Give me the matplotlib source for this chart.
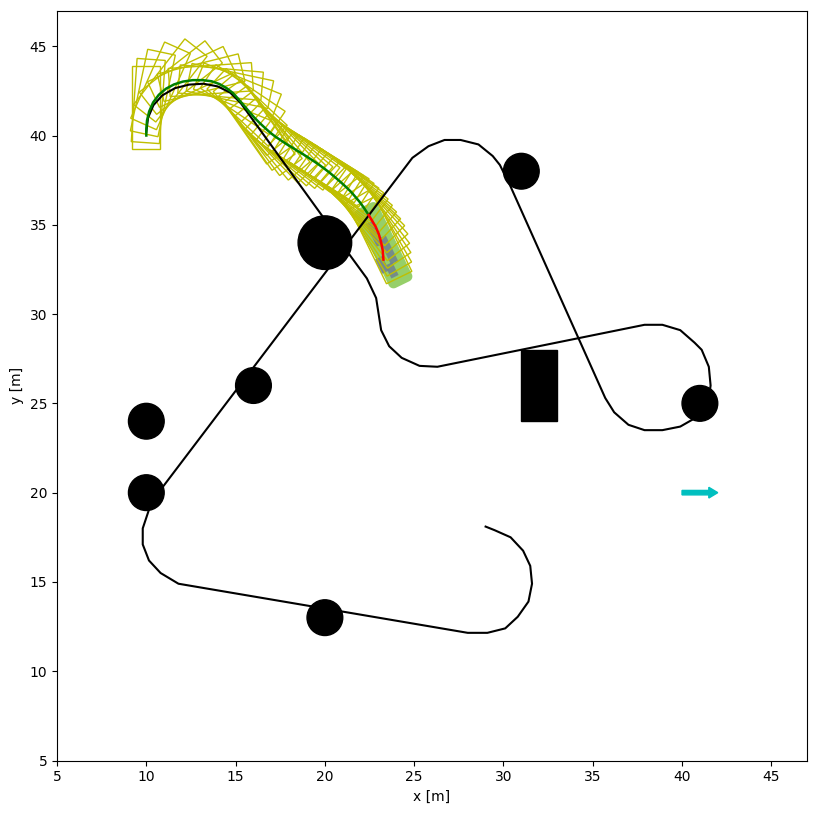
import matplotlib
matplotlib.use("Agg")
import matplotlib.pyplot as plt
import matplotlib.patches as patches
import numpy as np

# reference path (black)
ref_x = [10.0, 10.1, 10.4, 10.9, 11.6, 12.4, 13.2, 14.0, 14.7, 15.3, 19.85, 21.4, 22.35,
         22.87, 23.15, 23.6, 24.3, 25.3, 26.3, 37.9, 38.9, 39.9, 40.7, 41.1, 41.5, 41.6,
         41.4, 40.6, 39.9, 38.9, 37.9, 37.0, 36.2, 35.7, 30.4, 29.8, 29.4, 28.6, 27.6,
         26.7, 25.8, 24.9, 10.3, 9.8, 9.8, 10.15, 10.8, 11.8, 28.0, 29.1, 30.1, 30.8,
         31.4, 31.6, 31.5, 31.1, 30.4, 29.5, 29.0]
ref_y = [40.2, 41.0, 41.7, 42.25, 42.65, 42.85, 42.9, 42.75, 42.4, 41.8, 35.5, 33.3, 32.0,
         30.9, 29.1, 28.2, 27.55, 27.1, 27.05, 29.4, 29.4, 29.1, 28.4, 28.0, 27.05, 26.0,
         24.6, 24.1, 23.7, 23.5, 23.5, 23.8, 24.5, 25.3, 37.14, 38.35, 38.85, 39.5, 39.75,
         39.75, 39.4, 38.75, 19.5, 18.0, 17.1, 16.2, 15.5, 14.9, 12.15, 12.15, 12.4, 13.05,
         13.9, 14.9, 15.9, 16.75, 17.5, 17.9, 18.1]

# driven trajectory (green) and vehicle heading at each pose
traj_x = [10.00, 10.00, 10.04, 10.16, 10.38, 10.70, 11.10, 11.55, 12.05, 12.60, 13.15,
          13.65, 14.10, 14.50, 14.85, 15.15, 15.45, 15.75, 16.05, 16.35, 16.65, 16.95,
          17.25, 17.55, 17.85, 18.15, 18.45, 18.75, 19.05, 19.35, 19.65, 19.95, 20.25,
          20.55, 20.85, 21.15, 21.45, 21.72, 21.98, 22.22, 22.45]
traj_y = [40.00, 40.37, 40.85, 41.35, 41.85, 42.28, 42.62, 42.86, 43.02, 43.10, 43.10,
          43.04, 42.88, 42.65, 42.38, 42.05, 41.70, 41.35, 41.00, 40.70, 40.42, 40.15,
          39.92, 39.72, 39.52, 39.34, 39.15, 38.97, 38.78, 38.58, 38.38, 38.16, 37.93,
          37.68, 37.42, 37.15, 36.86, 36.55, 36.24, 35.90, 35.55]
traj_yaw = [90, 86, 78, 66, 52, 38, 25, 14, 4, -5, -12, -22, -34, -43, -50, -55, -55,
            -53, -50, -46, -43, -40, -37, -35, -33, -32, -32, -32, -33, -34, -35, -37,
            -39, -41, -43, -45, -48, -52, -56, -60, -64]

# predicted trajectory (red)
pred_x = [22.45, 22.65, 22.85, 23.02, 23.15, 23.24, 23.28]
pred_y = [35.55, 35.22, 34.88, 34.48, 34.02, 33.55, 33.05]

# safety region: x, y, heading [deg]; rear, front, half width, corner radius
safety_pose = [22.6, 35.25, -64]
safety_size = [0.6, 3.7, 0.42, 0.3]
# predicted footprints (grey)
grey_x = [22.8, 23.55, 23.2, 23.75]
grey_y = [34.5, 33.6, 32.75, 32.45]
grey_len = [1.4, 1.6, 0.9, 0.8]

# obstacles
obs_x = [20, 10, 16, 10, 20, 31, 41]
obs_y = [34, 20, 26, 24, 13, 38, 25]
obs_r = [1.5, 1, 1, 1, 1, 1, 1]
box_obs = [31, 24, 2, 4]  # x, y, width, height

goal = [40, 20]

car_rear = 0.77
car_front = 3.9
car_width = 1.58


def rot_mat(yaw):
    return np.array([[np.cos(yaw), -np.sin(yaw)], [np.sin(yaw), np.cos(yaw)]])


def car_outline(x, y, yaw, rear=car_rear, front=car_front, width=car_width):
    local = np.array([[-rear, -width / 2], [front, -width / 2],
                      [front, width / 2], [-rear, width / 2]])
    return local @ rot_mat(yaw).T + np.array([x, y])


def rounded_outline(x, y, yaw, rear, front, half_w, pad):
    # box grown by pad with round corners
    corners = [(front, half_w, 0.0), (-rear, half_w, np.pi / 2),
               (-rear, -half_w, np.pi), (front, -half_w, 1.5 * np.pi)]
    pts = []
    for cx, cy, a0 in corners:
        for a in np.linspace(a0, a0 + np.pi / 2, 10):
            pts.append([cx + pad * np.cos(a), cy + pad * np.sin(a)])
    return np.array(pts) @ rot_mat(yaw).T + np.array([x, y])


def plot_scene():
    fig = plt.figure(figsize=(8.17, 8.14), dpi=100)
    ax = fig.add_axes([0.0698, 0.0651, 0.918, 0.9226])

    s_yaw = np.deg2rad(safety_pose[2])
    ax.add_patch(patches.Polygon(rounded_outline(safety_pose[0], safety_pose[1], s_yaw, *safety_size),
                                 closed=True, color="#7cc444", alpha=0.8, lw=0))
    for x, y, length in zip(grey_x, grey_y, grey_len):
        ax.add_patch(patches.Polygon(car_outline(x, y, s_yaw, length / 2, length / 2, 0.45),
                                     closed=True, color="slategray", alpha=0.85, lw=0))

    for x, y, yaw in zip(traj_x, traj_y, traj_yaw):
        ax.add_patch(patches.Polygon(car_outline(x, y, np.deg2rad(yaw)), closed=True, fill=False,
                                     edgecolor="y", lw=1))

    ax.plot(ref_x, ref_y, "k-", lw=1.5)
    ax.plot(traj_x, traj_y, "g-", lw=1.8)
    ax.plot(pred_x, pred_y, "r-", lw=1.8)

    for x, y, r in zip(obs_x, obs_y, obs_r):
        ax.add_patch(plt.Circle((x, y), r, color="k"))
    ax.add_patch(patches.Rectangle((box_obs[0], box_obs[1]), box_obs[2], box_obs[3], color="k"))

    ax.arrow(goal[0], goal[1], 1.5, 0, width=0.25, head_width=0.6, head_length=0.5,
             color="c", length_includes_head=False)

    ax.set_xlim(5, 47)
    ax.set_ylim(5, 47)
    ax.set_aspect("equal")
    ax.set_xticks(np.arange(5, 46, 5))
    ax.set_yticks(np.arange(5, 46, 5))
    ax.set_xlabel("x [m]")
    ax.set_ylabel("y [m]")

    fig.savefig("out.png", dpi=100)


if __name__ == "__main__":
    plot_scene()
